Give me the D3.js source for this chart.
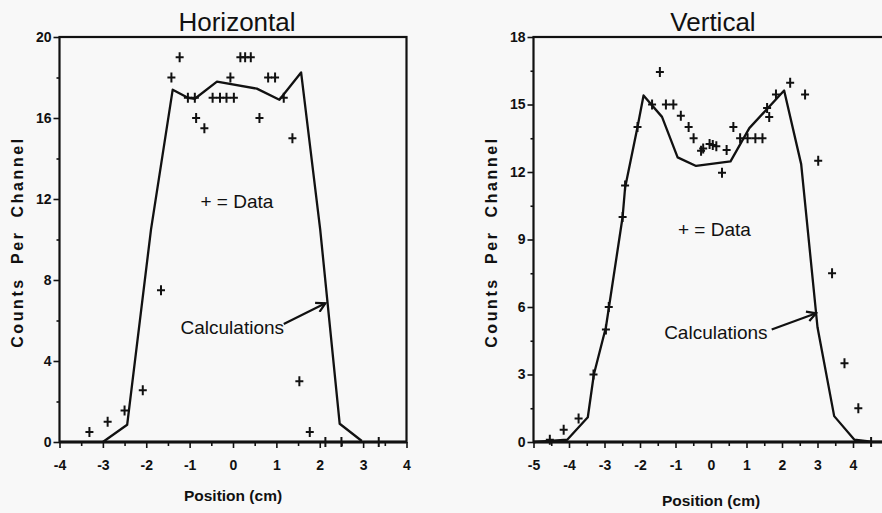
<!DOCTYPE html>
<html>
<head>
<meta charset="utf-8">
<script src="https://cdn.jsdelivr.net/npm/d3@7"></script>
<style>
  body { margin: 0; background: #f8f8f8; }
  svg { display: block; }
  .tick line { stroke: #111; stroke-width: 1.6; }
</style>
</head>
<body>
<div id="chart"></div>
<script>
// ---- Horizontal panel ----
var hCalcX = [-3.0, -2.44, -1.89, -1.39, -1.04, -0.88, -0.37, 0.55, 1.07, 1.57, 2.01, 2.46, 2.97];
var hCalcY = [0, 0.85, 10.5, 17.4, 17.0, 16.95, 17.8, 17.45, 16.9, 18.25, 10.5, 0.9, 0.05];
var hDataX = [-3.31, -2.89, -2.5, -2.08, -1.66, -1.42, -1.23, -1.04, -0.88, -0.85, -0.66, -0.47, -0.3, -0.15, 0.02,
              -0.06, 0.17, 0.28, 0.41, 0.61, 0.81, 0.97, 1.17, 1.37, 1.53, 1.77, 2.13, 2.5, 3.36];
var hDataY = [0.5, 1.0, 1.55, 2.55, 7.5, 18, 19, 17, 17, 16, 15.5, 17, 17, 17, 17,
              18, 19, 19, 19, 16, 18, 18, 17, 15, 3, 0.5, 0, 0, 0];
var hXTicks = [-4, -3, -2, -1, 0, 1, 2, 3, 4];
var hYTicks = [0, 4, 8, 12, 16, 20];

// ---- Vertical panel ----
var vCalcX = [-5, -4.54, -4.05, -3.47, -3.3, -2.96, -2.49, -2.42, -2.07, -1.9, -1.38, -0.94, -0.42, 0.55, 1.08, 2.06, 2.54, 3.0, 3.47, 4.04, 4.51, 5];
var vCalcY = [0, 0.05, 0.1, 1.1, 3.0, 5.1, 10.0, 11.3, 14.0, 15.4, 14.45, 12.65, 12.27, 12.47, 13.95, 15.62, 12.35, 5.1, 1.15, 0.1, 0.02, 0];
var vDataX = [-4.54, -4.15, -3.73, -3.31, -2.96, -2.88, -2.49, -2.42, -2.07, -1.66, -1.44, -1.27, -1.06, -0.85, -0.63, -0.49,
              -0.28, -0.22, -0.04, 0.05, 0.15, 0.31, 0.44, 0.63, 0.82, 1.03, 1.25, 1.45, 1.58, 1.64, 1.83, 2.23, 2.65, 3.02,
              3.41, 3.76, 4.15, 4.51];
var vDataY = [0.1, 0.55, 1.05, 3.0, 5.0, 6.0, 10.0, 11.4, 14.0, 15.0, 16.45, 15.0, 15.0, 14.5, 14.0, 13.5,
              12.95, 13.05, 13.25, 13.2, 13.15, 11.97, 12.98, 14.0, 13.5, 13.5, 13.5, 13.5, 14.85, 14.45, 15.45, 15.97, 15.45, 12.5,
              7.5, 3.5, 1.5, 0.0];
var vXTicks = [-5, -4, -3, -2, -1, 0, 1, 2, 3, 4];
var vYTicks = [0, 3, 6, 9, 12, 15, 18];

var svg = d3.select("#chart").append("svg")
    .attr("width", 882)
    .attr("height", 513);

svg.append("defs").append("marker")
    .attr("id", "arrow")
    .attr("viewBox", "0 0 12 12")
    .attr("refX", 10).attr("refY", 6)
    .attr("markerWidth", 12).attr("markerHeight", 12)
    .attr("markerUnits", "userSpaceOnUse")
    .attr("orient", "auto")
    .append("path")
    .attr("d", "M1,1 L10,6 L1,11")
    .attr("fill", "none")
    .attr("stroke", "#111")
    .attr("stroke-width", 2.2);

var sansFont = "'Liberation Sans', Arial, Helvetica, sans-serif";

// bold tick labels, plain hyphen for negatives
function styleTicks(a) {
    a.select(".domain").remove();
    a.selectAll("text")
        .attr("font-family", sansFont)
        .attr("font-weight", "bold")
        .attr("font-size", 14)
        .attr("fill", "#111");
}

function drawPanel(p) {
    var x = d3.scaleLinear().domain(p.xDomain).range(p.xRange);
    var y = d3.scaleLinear().domain(p.yDomain).range([442, 37]);
    var g = svg.append("g");

    // half-step minor ticks
    var xMinor = p.xTicks.slice(0, -1).map(function(d) { return d + 0.5; });
    var yStep = p.yTicks[1] - p.yTicks[0];
    var yMinor = p.yTicks.slice(0, -1).map(function(d) { return d + yStep / 2; });

    var fmt = function(d) { return String(d); };

    g.append("g")
        .attr("transform", "translate(0,442)")
        .call(d3.axisBottom(x).tickValues(p.xTicks).tickFormat(fmt).tickSizeInner(6).tickSizeOuter(0).tickPadding(12))
        .call(styleTicks);
    g.append("g")
        .attr("transform", "translate(0,442)")
        .call(d3.axisBottom(x).tickValues(xMinor).tickFormat("").tickSizeInner(4).tickSizeOuter(0))
        .call(styleTicks);

    g.append("g")
        .attr("transform", "translate(" + p.xRange[0] + ",0)")
        .call(d3.axisLeft(y).tickValues(p.yTicks).tickFormat(fmt).tickSizeInner(6).tickSizeOuter(0).tickPadding(2))
        .call(styleTicks);
    g.append("g")
        .attr("transform", "translate(" + p.xRange[0] + ",0)")
        .call(d3.axisLeft(y).tickValues(yMinor).tickFormat("").tickSizeInner(3).tickSizeOuter(0))
        .call(styleTicks);

    // frame
    g.append("rect")
        .attr("x", p.xRange[0]).attr("y", 37)
        .attr("width", p.xRange[1] - p.xRange[0]).attr("height", 405)
        .attr("fill", "none")
        .attr("stroke", "#111")
        .attr("stroke-width", 2.2);
    // heavier baseline
    g.append("line")
        .attr("x1", p.xRange[0]).attr("x2", p.xRange[1])
        .attr("y1", 442).attr("y2", 442)
        .attr("stroke", "#111")
        .attr("stroke-width", 2.8);

    // calculation line
    var calc = d3.zip(p.calcX, p.calcY);
    g.append("path")
        .datum(calc)
        .attr("fill", "none")
        .attr("stroke", "#111")
        .attr("stroke-width", 2.3)
        .attr("stroke-linejoin", "round")
        .attr("d", d3.line().x(function(d) { return x(d[0]); }).y(function(d) { return y(d[1]); }));

    // data crosses
    g.selectAll(".pt")
        .data(d3.zip(p.dataX, p.dataY))
        .enter().append("path")
        .attr("class", "pt")
        .attr("transform", function(d) { return "translate(" + x(d[0]) + "," + y(d[1]) + ")"; })
        .attr("d", "M-4,0H4M0,-5V5")
        .attr("stroke", "#111")
        .attr("stroke-width", 2)
        .attr("fill", "none");

    // titles and labels
    g.append("text")
        .attr("x", x(0) + p.titleDx).attr("y", 31)
        .attr("text-anchor", "middle")
        .attr("font-family", sansFont)
        .attr("font-size", 26)
        .attr("fill", "#111")
        .text(p.title);

    g.append("text")
        .attr("x", x(0)).attr("y", p.xLabelY)
        .attr("text-anchor", "middle")
        .attr("font-family", sansFont)
        .attr("font-weight", "bold")
        .attr("font-size", 15.5)
        .attr("fill", "#111")
        .text("Position  (cm)");

    g.append("text")
        .attr("transform", "translate(" + p.yLabelX + ",242) rotate(-90)")
        .attr("text-anchor", "middle")
        .attr("font-family", sansFont)
        .attr("font-weight", "bold")
        .attr("font-size", 16)
        .attr("letter-spacing", 2.6)
        .attr("word-spacing", 6)
        .attr("fill", "#111")
        .text("Counts Per Channel");

    g.append("text")
        .attr("x", x(p.legendAt[0])).attr("y", y(p.legendAt[1]))
        .attr("font-family", sansFont)
        .attr("font-size", 19)
        .attr("fill", "#111")
        .text("+ = Data");

    g.append("text")
        .attr("x", x(p.calcLabelAt[0])).attr("y", y(p.calcLabelAt[1]))
        .attr("font-family", sansFont)
        .attr("font-size", 19)
        .attr("fill", "#111")
        .text("Calculations");

    g.append("line")
        .attr("x1", x(p.arrowFrom[0])).attr("y1", y(p.arrowFrom[1]))
        .attr("x2", x(p.arrowTo[0])).attr("y2", y(p.arrowTo[1]))
        .attr("stroke", "#111")
        .attr("stroke-width", 2.2)
        .attr("marker-end", "url(#arrow)");
}

drawPanel({
    title: "Horizontal", titleDx: 4,
    xDomain: [-4, 4], xRange: [59.5, 406.5], yDomain: [0, 20],
    xTicks: hXTicks, yTicks: hYTicks,
    calcX: hCalcX, calcY: hCalcY, dataX: hDataX, dataY: hDataY,
    xLabelY: 501, yLabelX: 23,
    legendAt: [-0.75, 11.58], calcLabelAt: [-1.21, 5.33],
    arrowFrom: [1.17, 5.83], arrowTo: [2.13, 6.85]
});

drawPanel({
    title: "Vertical", titleDx: 2,
    xDomain: [-5, 5], xRange: [533.5, 888.5], yDomain: [0, 18],
    xTicks: vXTicks, yTicks: vYTicks,
    calcX: vCalcX, calcY: vCalcY, dataX: vDataX, dataY: vDataY,
    xLabelY: 506, yLabelX: 497,
    legendAt: [-0.93, 9.17], calcLabelAt: [-1.32, 4.6],
    arrowFrom: [1.71, 5.0], arrowTo: [2.96, 5.72]
});
</script>
</body>
</html>
